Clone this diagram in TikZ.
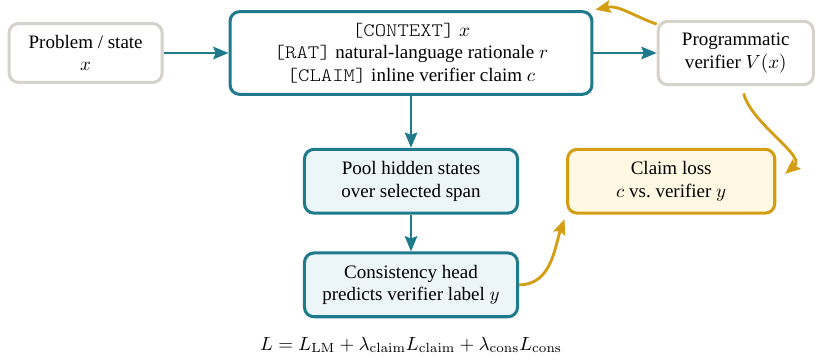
\documentclass[tikz,border=0pt]{standalone}
\usepackage[no-math]{fontspec}
\setmainfont{Liberation Serif}
\setmonofont[FakeStretch=1.14]{Latin Modern Mono Light}
\usetikzlibrary{positioning,arrows.meta}
\definecolor{tealc}{RGB}{31,122,140}
\definecolor{greyc}{RGB}{212,210,202}
\definecolor{goldc}{RGB}{212,158,20}
\definecolor{poolfill}{RGB}{236,245,248}
\definecolor{lossfill}{RGB}{255,248,226}

\begin{document}
\begin{tikzpicture}[
    every node/.style={align=center},
    box/.style={draw, rounded corners=5pt, line width=1.6pt, minimum height=1.18cm},
    inbox/.style={box, draw=greyc, fill=white},
    modbox/.style={box, draw=tealc, fill=poolfill, minimum width=3.94cm},
    lossbox/.style={box, draw=goldc, fill=lossfill, minimum width=3.83cm},
    flow/.style={draw=tealc, line width=1.5pt, -{Stealth[length=8pt,width=6.5pt,inset=1.2pt]}},
    sig/.style={draw=goldc, line width=1.5pt, -{Stealth[length=8pt,width=6.5pt,inset=1.2pt]}}
]
    \useasboundingbox (0,0) rectangle (15.2,-6.69);

    \node[box, draw=tealc, fill=white, minimum width=6.69cm, minimum height=1.53cm] (ctx) at (7.6,-0.98)
        {\texttt{[CONTEXT]} $x$\\ \texttt{[RAT]} natural-language rationale $r$\\ \texttt{[CLAIM]} inline verifier claim $c$};
    \node[inbox, minimum width=2.83cm, minimum height=1.09cm] (prob) [left=1.2cm of ctx] {Problem / state\\ $x$};
    \node[inbox, minimum width=2.87cm, minimum height=1.17cm] (ver) [right=1.17cm of ctx] {Programmatic\\ verifier $V(x)$};
    \node[modbox] (pool) [below=0.96cm of ctx] {Pool hidden states\\ over selected span};
    \node[modbox] (cons) [below=0.68cm of pool] {Consistency head\\ predicts verifier label $y$};
    \node[lossbox] (claim) [right=0.87cm of pool] {Claim loss\\ $c$ vs.\ verifier $y$};
    \node (loss) [below=0.22cm of cons]
        {$L = L_{\mathrm{LM}} + \lambda_{\mathrm{claim}} L_{\mathrm{claim}} + \lambda_{\mathrm{cons}} L_{\mathrm{cons}}$};

    \draw[flow] (prob) -- (ctx);
    \draw[flow] (ctx) -- (ver);
    \draw[flow] (ctx) -- (pool);
    \draw[flow] (pool) -- (cons);

    \draw[sig, shorten >=1pt] (ver.160) to[out=160,in=12] (ctx.north east);
    \draw[sig, shorten <=4pt, shorten >=6pt] (ver.-80) to[out=-75,in=40] (claim.east);
    \draw[sig, shorten >=2.5pt] (cons.east) to[out=0,in=-110] (claim.south west);

\end{tikzpicture}
\end{document}
